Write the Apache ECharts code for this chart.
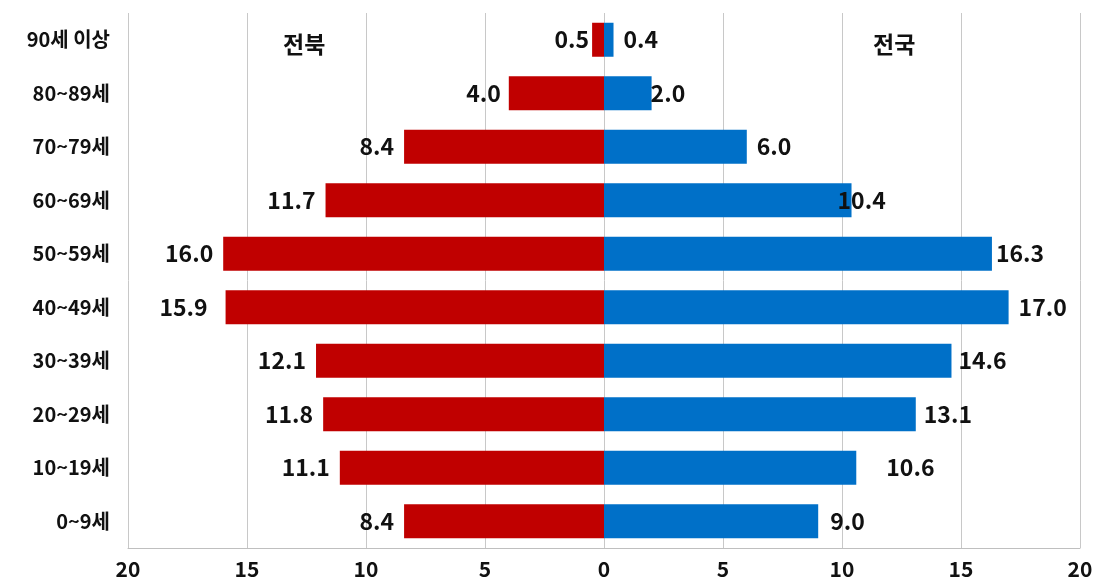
<!DOCTYPE html>
<html><head><meta charset="utf-8">
<script src="https://cdn.jsdelivr.net/npm/echarts@6/dist/echarts.min.js"></script>
<style>html,body{margin:0;padding:0;background:#fff}#c{width:1102px;height:585px}</style>
</head><body><div id="c"></div>
<script>
const categories = ['0~9세','10~19세','20~29세','30~39세','40~49세','50~59세','60~69세','70~79세','80~89세','90세 이상'];
const jeonbuk = [8.4, 11.1, 11.8, 12.1, 15.9, 16.0, 11.7, 8.4, 4.0, 0.5];
const national = [9.0, 10.6, 13.1, 14.6, 17.0, 16.3, 10.4, 6.0, 2.0, 0.4];
const xTicks = [-20, -15, -10, -5, 0, 5, 10, 15, 20];
// label offsets (style only)
const redLabelDist = [10, 10, 10, 10, 18, 10, 10, 10, 8, 3];
const blueLabelDist = [12, 30, 8, 7, 10, 4, -14, 10, -1, 10];

const font = '"Noto Sans CJK KR", "Noto Sans", sans-serif';
const chart = echarts.init(document.getElementById('c'));
chart.setOption({
  animation: false,
  grid: {left: 128, right: 22, top: 13, bottom: 37},
  xAxis: {
    type: 'value', min: xTicks[0], max: xTicks[xTicks.length-1], interval: 5,
    axisLine: {show: true, lineStyle: {color: '#bfbfbf'}},
    axisTick: {show: false},
    splitLine: {show: true, lineStyle: {color: '#c8c8c8', width: 1}},
    axisLabel: {formatter: v => Math.abs(v), color: '#111', fontSize: 21, fontFamily: font, fontWeight: 'bold', margin: 11}
  },
  yAxis: {
    type: 'category', data: categories,
    axisLine: {show: false}, axisTick: {show: false},
    axisLabel: {color: '#111', fontSize: 20, fontFamily: font, fontWeight: 'bold', margin: 18}
  },
  series: [
    {
      name: '전북', type: 'bar', barWidth: 34, barGap: '-100%',
      itemStyle: {color: '#C00000'},
      data: jeonbuk.map((v, i) => ({value: -v, label: {distance: redLabelDist[i]}})),
      label: {show: true, position: 'left', formatter: p => Math.abs(p.value).toFixed(1),
        color: '#111', fontSize: 23, fontWeight: 'bold', fontFamily: font}
    },
    {
      name: '전국', type: 'bar', barWidth: 34,
      itemStyle: {color: '#0070C8'},
      data: national.map((v, i) => ({value: v, label: {distance: blueLabelDist[i]}})),
      label: {show: true, position: 'right', formatter: p => p.value.toFixed(1),
        color: '#111', fontSize: 23, fontWeight: 'bold', fontFamily: font}
    }
  ],
  graphic: [
    {type: 'text', left: 283, top: 33, style: {text: '전북', font: 'bold 23px ' + font, fill: '#111'}},
    {type: 'text', left: 873, top: 33, style: {text: '전국', font: 'bold 23px ' + font, fill: '#111'}}
  ]
});
</script></body></html>
